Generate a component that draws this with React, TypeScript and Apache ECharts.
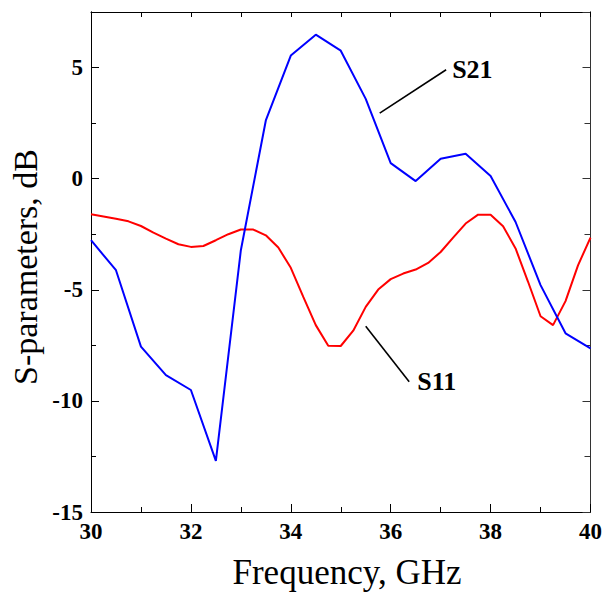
import React, { useEffect, useRef } from "react";
import * as echarts from "echarts";

const FONT = "'Liberation Serif', 'Times New Roman', serif";

// S21 (blue) samples
const freqS21 = [30, 30.5, 31, 31.5, 32, 32.5, 33, 33.5, 34, 34.5, 35, 35.5, 36, 36.5, 37, 37.5, 38, 38.5, 39, 39.5, 40];
const s21 = [-2.77, -4.12, -7.56, -8.84, -9.51, -12.7, -3.22, 2.62, 5.54, 6.48, 5.76, 3.59, 0.7, -0.11, 0.9, 1.12, 0.12, -1.95, -4.79, -6.96, -7.64];

// S11 (red) samples
const freqS11 = [30, 30.25, 30.5, 30.75, 31, 31.25, 31.5, 31.75, 32, 32.25, 32.5, 32.75, 33, 33.25, 33.5, 33.75, 34, 34.25, 34.5, 34.75, 35, 35.25, 35.5, 35.75, 36, 36.25, 36.5, 36.75, 37, 37.25, 37.5, 37.75, 38, 38.25, 38.5, 38.75, 39, 39.25, 39.5, 39.75, 40];
const s11 = [-1.6, -1.7, -1.8, -1.92, -2.13, -2.43, -2.7, -2.95, -3.07, -3.03, -2.77, -2.5, -2.29, -2.29, -2.55, -3.1, -4.01, -5.32, -6.59, -7.52, -7.53, -6.84, -5.77, -4.99, -4.52, -4.27, -4.09, -3.79, -3.3, -2.65, -2.02, -1.62, -1.62, -2.14, -3.14, -4.64, -6.19, -6.59, -5.51, -3.9, -2.65];

// annotation leader lines (data coordinates)
const leaderS21X = [35.78, 37.11];
const leaderS21Y = [2.95, 4.9];
const leaderS11X = [35.5, 36.37];
const leaderS11Y = [-6.64, -9.14];

const xTitle = "Frequency, GHz";
const yTitle = "S-parameters, dB";

const zip = (xs: number[], ys: number[]) => xs.map((x, i) => [x, ys[i]]);

export default function App() {
  const ref = useRef<HTMLDivElement>(null);
  useEffect(() => {
    if (!ref.current) return;
    const chart = echarts.init(ref.current, null, { renderer: "svg" });
    const axisLine = { show: true, onZero: false, lineStyle: { color: "#000", width: 1 } };
    const label = { color: "#000", fontFamily: "Liberation Serif", fontSize: 23, fontWeight: "bold" };
    const xCommon = {
      type: "value",
      min: 30,
      max: 40,
      interval: 2,
      axisLine,
      splitLine: { show: false },
      minorSplitLine: { show: false },
    };
    const yCommon = {
      type: "value",
      min: -15,
      max: 7.5,
      axisLine,
      splitLine: { show: false },
      minorSplitLine: { show: false },
    };
    chart.setOption({
      animation: false,
      backgroundColor: "#fff",
      grid: { left: 91, top: 12, width: 500, height: 500 },
      xAxis: [
        {
          ...xCommon,
          position: "bottom",
          axisTick: { show: true, inside: true, length: 8, lineStyle: { color: "#000" } },
          minorTick: { show: true, splitNumber: 2, length: 5, lineStyle: { color: "#000" } },
          axisLabel: { ...label, margin: 8 },
        },
        {
          ...xCommon,
          position: "top",
          axisTick: { show: true, inside: true, length: 5, lineStyle: { color: "#000" } },
          minorTick: { show: true, splitNumber: 2, length: 5, lineStyle: { color: "#000" } },
          axisLabel: { show: false },
        },
      ],
      yAxis: [
        {
          ...yCommon,
          position: "left",
          interval: 5,
          axisTick: { show: true, inside: true, length: 8, lineStyle: { color: "#000" } },
          axisLabel: {
            ...label,
            margin: 8,
            formatter: (v: number) => (v === 7.5 ? "" : String(v)),
          },
        },
        {
          ...yCommon,
          position: "left",
          interval: 2.5,
          axisTick: { show: true, inside: true, length: 5, lineStyle: { color: "#000" } },
          axisLabel: { show: false },
        },
        {
          ...yCommon,
          position: "right",
          interval: 5,
          axisLine: { ...axisLine, lineStyle: { color: "#333", width: 1 } },
          axisTick: { show: true, inside: true, length: 8, lineStyle: { color: "#333" } },
          axisLabel: { show: false },
        },
        {
          ...yCommon,
          position: "right",
          interval: 2.5,
          axisLine: { ...axisLine, lineStyle: { color: "#333", width: 1 } },
          axisTick: { show: true, inside: true, length: 6, lineStyle: { color: "#333" } },
          axisLabel: { show: false },
        },
      ],
      series: [
        {
          name: "S11",
          type: "line",
          data: zip(freqS11, s11),
          showSymbol: false,
          symbol: "none",
          lineStyle: { color: "#ff0000", width: 2 },
          itemStyle: { color: "#ff0000" },
        },
        {
          name: "S21",
          type: "line",
          data: zip(freqS21, s21),
          showSymbol: false,
          symbol: "none",
          lineStyle: { color: "#0000ff", width: 2 },
          itemStyle: { color: "#0000ff" },
        },
        {
          name: "S21 label",
          type: "line",
          data: zip(leaderS21X, leaderS21Y),
          showSymbol: false,
          symbol: "none",
          lineStyle: { color: "#000", width: 1.6 },
          endLabel: {
            show: true,
            formatter: "S21",
            color: "#000",
            fontFamily: "Liberation Serif",
            fontSize: 26,
            fontWeight: "bold",
            distance: 6,
          },
        },
        {
          name: "S11 label",
          type: "line",
          data: zip(leaderS11X, leaderS11Y),
          showSymbol: false,
          symbol: "none",
          lineStyle: { color: "#000", width: 1.6 },
          endLabel: {
            show: true,
            formatter: "S11",
            color: "#000",
            fontFamily: "Liberation Serif",
            fontSize: 26,
            fontWeight: "bold",
            distance: 8,
          },
        },
      ],
      graphic: [
        {
          type: "text",
          x: 347,
          y: 572,
          style: {
            text: xTitle,
            fill: "#000",
            font: `35px ${FONT}`,
            align: "center",
            verticalAlign: "middle",
          },
        },
        {
          type: "text",
          x: 25,
          y: 267,
          rotation: Math.PI / 2,
          style: {
            text: yTitle,
            fill: "#000",
            font: `34px ${FONT}`,
            align: "center",
            verticalAlign: "middle",
          },
        },
      ],
    });
    return () => chart.dispose();
  }, []);
  return (
    <div
      ref={ref}
      style={{ position: "absolute", left: 0, top: 0, width: 605, height: 594 }}
    />
  );
}
